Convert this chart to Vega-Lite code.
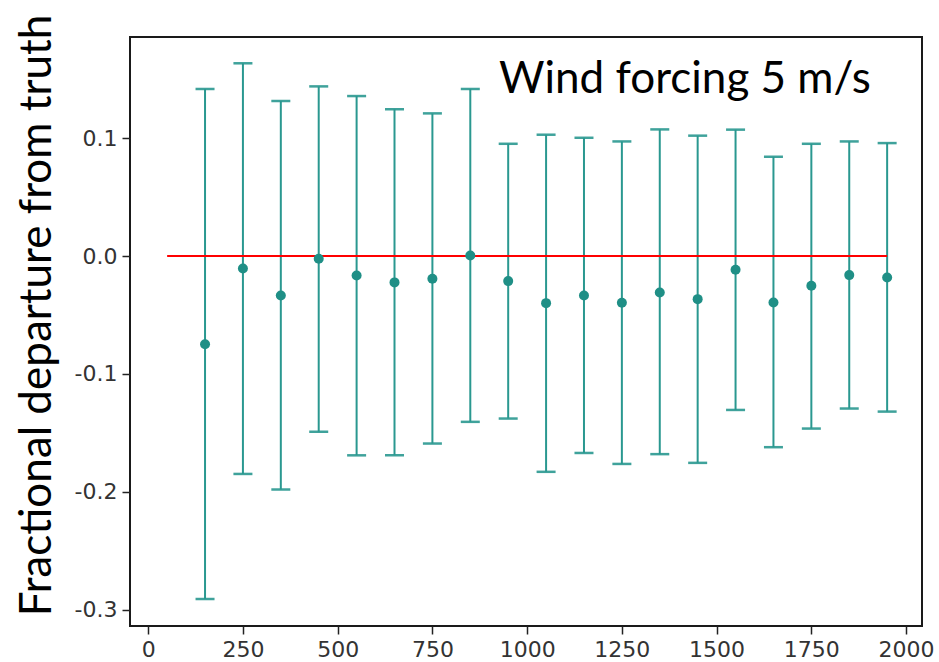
{
  "$schema": "https://vega.github.io/schema/vega-lite/v6.json",
  "autosize": "none",
  "padding": {"left": 130, "top": 37, "right": 17, "bottom": 36},
  "width": 792,
  "height": 589,
  "config": {
    "view": {"stroke": "#1a1a1a", "strokeWidth": 2},
    "axis": {
      "domain": false,
      "grid": false,
      "tickColor": "#222222",
      "tickSize": 8,
      "tickWidth": 1.5,
      "labelFont": "DejaVu Sans",
      "labelFontSize": 22,
      "labelColor": "#333333",
      "labelPadding": 5
    }
  },
  "datasets": {
    "pts": [
      {"x": 150, "y": -0.0747, "lo": -0.2909, "hi": 0.1418},
      {"x": 250, "y": -0.0105, "lo": -0.1848, "hi": 0.1636},
      {"x": 350, "y": -0.0334, "lo": -0.1980, "hi": 0.1316},
      {"x": 450, "y": -0.0023, "lo": -0.1490, "hi": 0.1440},
      {"x": 550, "y": -0.0164, "lo": -0.1690, "hi": 0.1358},
      {"x": 650, "y": -0.0223, "lo": -0.1690, "hi": 0.1245},
      {"x": 750, "y": -0.0192, "lo": -0.1590, "hi": 0.1211},
      {"x": 850, "y": 0.0006, "lo": -0.1406, "hi": 0.1418},
      {"x": 950, "y": -0.0212, "lo": -0.1378, "hi": 0.0953},
      {"x": 1050, "y": -0.0399, "lo": -0.1830, "hi": 0.1030},
      {"x": 1150, "y": -0.0334, "lo": -0.1670, "hi": 0.1004},
      {"x": 1250, "y": -0.0396, "lo": -0.1763, "hi": 0.0973},
      {"x": 1350, "y": -0.0308, "lo": -0.1680, "hi": 0.1075},
      {"x": 1450, "y": -0.0365, "lo": -0.1754, "hi": 0.1022},
      {"x": 1550, "y": -0.0116, "lo": -0.1305, "hi": 0.1073},
      {"x": 1650, "y": -0.0393, "lo": -0.1621, "hi": 0.0843},
      {"x": 1750, "y": -0.0252, "lo": -0.1463, "hi": 0.0953},
      {"x": 1850, "y": -0.0161, "lo": -0.1293, "hi": 0.0973},
      {"x": 1950, "y": -0.0181, "lo": -0.1319, "hi": 0.0959}
    ],
    "ref": [{"x1": 50, "x2": 1950, "y": 0}],
    "note": [{"x": 926, "y": 0.138, "label": "Wind forcing 5 m/s"}]
  },
  "layer": [
    {
      "data": {"name": "pts"},
      "mark": {"type": "rule", "color": "#2a9890", "strokeWidth": 2},
      "encoding": {
        "x": {
          "field": "x", "type": "quantitative",
          "scale": {"domain": [-48, 2042], "nice": false, "zero": false},
          "axis": {"values": [0, 250, 500, 750, 1000, 1250, 1500, 1750, 2000], "format": "d", "title": null, "labelFlush": false}
        },
        "y": {
          "field": "lo", "type": "quantitative",
          "scale": {"domain": [-0.3138, 0.1859], "nice": false, "zero": false},
          "axis": {
            "values": [-0.3, -0.2, -0.1, 0, 0.1],
            "labelExpr": "datum.value < 0 ? '-' + format(-datum.value, '.1f') : format(datum.value, '.1f')",
            "title": "Fractional departure from truth",
            "titleFont": "Lato",
            "titleFontSize": 44,
            "titleFontWeight": "normal",
            "titleColor": "#000000",
            "titleAngle": 270,
            "titleBaseline": "alphabetic",
            "titleAlign": "center",
            "titleX": -80,
            "titleY": 278,
            "labelFlush": false
          }
        },
        "y2": {"field": "hi"}
      }
    },
    {
      "data": {"name": "pts"},
      "mark": {"type": "tick", "orient": "horizontal", "color": "#2a9890", "size": 19, "thickness": 2.5, "opacity": 0.9},
      "encoding": {
        "x": {"field": "x", "type": "quantitative"},
        "y": {"field": "lo", "type": "quantitative"}
      }
    },
    {
      "data": {"name": "pts"},
      "mark": {"type": "tick", "orient": "horizontal", "color": "#2a9890", "size": 19, "thickness": 2.5, "opacity": 0.9},
      "encoding": {
        "x": {"field": "x", "type": "quantitative"},
        "y": {"field": "hi", "type": "quantitative"}
      }
    },
    {
      "data": {"name": "ref"},
      "mark": {"type": "rule", "color": "#ff0000", "strokeWidth": 2},
      "encoding": {
        "x": {"field": "x1", "type": "quantitative"},
        "x2": {"field": "x2"},
        "y": {"field": "y", "type": "quantitative"}
      }
    },
    {
      "data": {"name": "pts"},
      "mark": {"type": "point", "filled": true, "color": "#1f8f86", "opacity": 1, "size": 100},
      "encoding": {
        "x": {"field": "x", "type": "quantitative"},
        "y": {"field": "y", "type": "quantitative"}
      }
    },
    {
      "data": {"name": "note"},
      "mark": {"type": "text", "font": "Lato", "fontSize": 44, "color": "#000000", "align": "left", "baseline": "alphabetic"},
      "encoding": {
        "x": {"field": "x", "type": "quantitative"},
        "y": {"field": "y", "type": "quantitative"},
        "text": {"field": "label"}
      }
    }
  ]
}
